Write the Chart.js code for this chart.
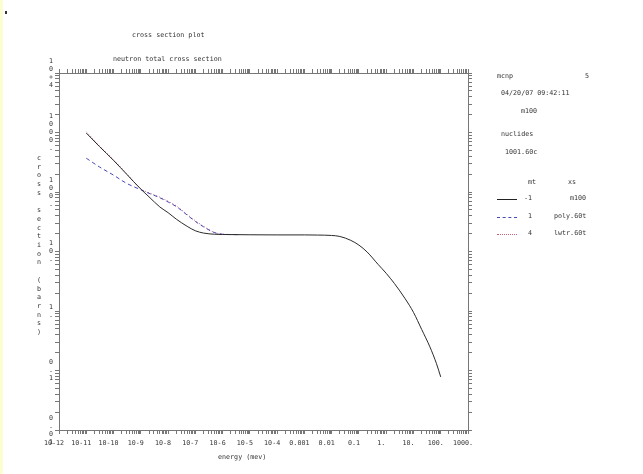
<!DOCTYPE html>
<html>
<head>
<meta charset="utf-8">
<script src="https://cdn.jsdelivr.net/npm/chart.js@4.4.1/dist/chart.umd.min.js"></script>
<style>
  body { margin: 0; background: #fff; }
  #wrap { position: relative; width: 643px; height: 474px; overflow: hidden; background: #fff; }
  #plot { position: absolute; left: 0; top: 0; }
  .t { position: absolute; font-family: 'DejaVu Sans Mono', monospace; font-size: 6.7px; line-height: 8px; color: #333; white-space: pre; }
  .strip { position: absolute; left: 0; top: 0; width: 3px; height: 474px; background: #fdfdd2; }
  .sample { position: absolute; width: 20px; height: 0; }
</style>
</head>
<body>
<div id="wrap">
  <canvas id="plot" width="643" height="474"></canvas>
  <div class="strip"></div>
  <div style="position:absolute;left:5px;top:11px;width:2px;height:3px;background:#333"></div>

  <div class="t" style="left:132px;top:31px">cross section plot</div>
  <div class="t" style="left:113px;top:55px">neutron total cross section</div>
  <div class="t" id="ytitle" style="left:37px;top:154px;line-height:8.7px"></div>
  <div class="t" style="left:218px;top:453px">energy (mev)</div>

  <div class="t" style="left:497px;top:72px">mcnp</div>
  <div class="t" style="left:585px;top:72px">5</div>
  <div class="t" style="left:501px;top:89px">04/20/07 09:42:11</div>
  <div class="t" style="left:521px;top:107px">m100</div>
  <div class="t" style="left:501px;top:130px">nuclides</div>
  <div class="t" style="left:505px;top:148px">1001.60c</div>
  <div class="t" style="left:528px;top:178px">mt</div>
  <div class="t" style="left:568px;top:178px">xs</div>

  <div class="sample" style="left:497px;top:199px;border-top:1px solid #222"></div>
  <div class="t" style="left:524px;top:194px">-1</div>
  <div class="t" style="left:570px;top:194px">m100</div>
  <div class="sample" style="left:497px;top:217px;border-top:1px dashed #4848b8"></div>
  <div class="t" style="left:528px;top:212px">1</div>
  <div class="t" style="left:554px;top:212px">poly.60t</div>
  <div class="sample" style="left:497px;top:234px;border-top:1px dotted #c86478"></div>
  <div class="t" style="left:528px;top:229px">4</div>
  <div class="t" style="left:554px;top:229px">lwtr.60t</div>
</div>
<script>
// energies in MeV, cross sections in barns
const ENERGY_M100 = [1e-11, 3e-11, 1e-10, 3e-10, 1e-9, 2e-9, 5e-9, 1e-8, 2e-8, 5e-8, 1e-7, 2e-7, 5e-7,
  1e-6, 1e-5, 1e-4, 1e-3, 3e-3, 0.01, 0.02, 0.05, 0.1, 0.2, 0.5, 1, 2, 5, 10, 20, 40, 70, 100]
const XS_M100 = [980, 585, 340, 200, 112, 83, 56, 45, 35, 26.5, 22.3, 20.4, 19.5,
  19.3, 19.1, 19, 19, 18.9, 18.6, 17.9, 15.4, 12.8, 9.8, 6.1, 4.3, 2.9, 1.6, 0.95, 0.49, 0.25, 0.13, 0.078]

const ENERGY_POLY = [1e-11, 3e-11, 1e-10, 3e-10, 1e-9, 2e-9, 5e-9, 1e-8, 2e-8, 5e-8, 1e-7, 2e-7, 5e-7, 1e-6, 4e-6]
const XS_POLY = [370, 265, 192, 140, 109, 95, 80, 68, 57, 41, 32, 26, 20.8, 19.5, 19.2]

const ENERGY_LWTR = [1e-11, 3e-11, 1e-10, 3e-10, 1e-9, 2e-9, 5e-9, 1e-8, 2e-8, 5e-8, 1e-7, 2e-7, 5e-7, 1e-6, 4e-6]
const XS_LWTR = [1030, 600, 350, 205, 113, 97, 82, 70, 58.5, 42, 33, 26.5, 21, 19.6, 19.2]

const X_EXPONENTS = [-12, -11, -10, -9, -8, -7, -6, -5, -4, -3, -2, -1, 0, 1, 2, 3]
const X_TICK_LABELS = ['10-12', '10-11', '10-10', '10-9', '10-8', '10-7', '10-6', '10-5',
  '10-4', '0.001', '0.01', '0.1', '1.', '10.', '100.', '1000.']
const Y_EXPONENTS = [-2, -1, 0, 1, 2, 3, 4]
const Y_TICK_LABELS = ['0.01', '0.1', '1.', '10.', '100.', '1000.', '10+4']

const Y_TITLE = 'cross section (barns)'

document.getElementById('ytitle').textContent = Y_TITLE.split('').join('\n')

const AXIS_COLOR = '#777'
const TEXT_COLOR = '#333'
const tickFont = { family: 'DejaVu Sans Mono', size: 6.7, lineHeight: '8px' }

const toPoints = (xs, ys) => xs.map((x, i) => ({ x, y: ys[i] }))

// decade ticks plus the 2..9 minors in between
function logTicks(exps) {
  const out = []
  exps.forEach((e, i) => {
    const base = Math.pow(10, e)
    out.push({ value: base })
    if (i < exps.length - 1) {
      for (let d = 2; d <= 9; d++) out.push({ value: d * base })
    }
  })
  return out
}

function decadeLabel(value, exps, labels) {
  const e = Math.round(Math.log10(value))
  if (Math.abs(value / Math.pow(10, e) - 1) > 1e-6) return ''
  const i = exps.indexOf(e)
  return i < 0 ? '' : labels[i]
}

const gridOpts = {
  drawOnChartArea: false,
  drawTicks: true,
  tickLength: 4,
  tickColor: AXIS_COLOR,
  tickWidth: 1
}
const borderOpts = { display: true, color: AXIS_COLOR, width: 1 }

const xMin = Math.pow(10, X_EXPONENTS[0])
const xMax = Math.pow(10, X_EXPONENTS[X_EXPONENTS.length - 1])
const yMin = Math.pow(10, Y_EXPONENTS[0])
const yMax = Math.pow(10, Y_EXPONENTS[Y_EXPONENTS.length - 1])

new Chart(document.getElementById('plot'), {
  type: 'line',
  data: {
    datasets: [
      {
        label: 'm100',
        data: toPoints(ENERGY_M100, XS_M100),
        borderColor: '#2a2a2a',
        borderWidth: 1
      },
      {
        label: 'poly.60t',
        data: toPoints(ENERGY_POLY, XS_POLY),
        borderColor: '#4848b8',
        borderWidth: 1,
        borderDash: [4, 3]
      },
      {
        label: 'lwtr.60t',
        data: toPoints(ENERGY_LWTR, XS_LWTR),
        borderColor: '#c86478',
        borderWidth: 1,
        borderDash: [1, 2]
      }
    ]
  },
  options: {
    responsive: false,
    animation: false,
    devicePixelRatio: 1,
    layout: { padding: 0 },
    elements: {
      point: { radius: 0 },
      line: { cubicInterpolationMode: 'monotone', fill: false }
    },
    plugins: { legend: { display: false }, tooltip: { enabled: false } },
    scales: {
      x: {
        type: 'logarithmic',
        position: 'bottom',
        min: xMin,
        max: xMax,
        afterBuildTicks: (s) => { s.ticks = logTicks(X_EXPONENTS) },
        afterFit: (s) => { s.height = 44 },
        grid: gridOpts,
        border: borderOpts,
        ticks: {
          autoSkip: false,
          maxRotation: 0,
          minRotation: 0,
          padding: 5,
          labelOffset: -5,
          color: TEXT_COLOR,
          font: tickFont,
          callback: (v) => decadeLabel(v, X_EXPONENTS, X_TICK_LABELS)
        }
      },
      x2: {
        type: 'logarithmic',
        position: 'top',
        min: xMin,
        max: xMax,
        afterBuildTicks: (s) => { s.ticks = logTicks(X_EXPONENTS) },
        afterFit: (s) => { s.height = 73 },
        grid: gridOpts,
        border: borderOpts,
        ticks: { autoSkip: false, maxRotation: 0, callback: () => '' }
      },
      y: {
        type: 'logarithmic',
        position: 'left',
        min: yMin,
        max: yMax,
        afterBuildTicks: (s) => { s.ticks = logTicks(Y_EXPONENTS) },
        afterFit: (s) => { s.width = 59 },
        grid: gridOpts,
        border: borderOpts,
        ticks: {
          autoSkip: false,
          padding: 2,
          color: TEXT_COLOR,
          font: tickFont,
          callback: (v) => {
            const lab = decadeLabel(v, Y_EXPONENTS, Y_TICK_LABELS)
            return lab ? lab.split('') : ''
          }
        }
      },
      y2: {
        type: 'logarithmic',
        position: 'right',
        min: yMin,
        max: yMax,
        afterBuildTicks: (s) => { s.ticks = logTicks(Y_EXPONENTS) },
        afterFit: (s) => { s.width = 175 },
        grid: gridOpts,
        border: borderOpts,
        ticks: { autoSkip: false, callback: () => '' }
      }
    }
  }
})
</script>
</body>
</html>
